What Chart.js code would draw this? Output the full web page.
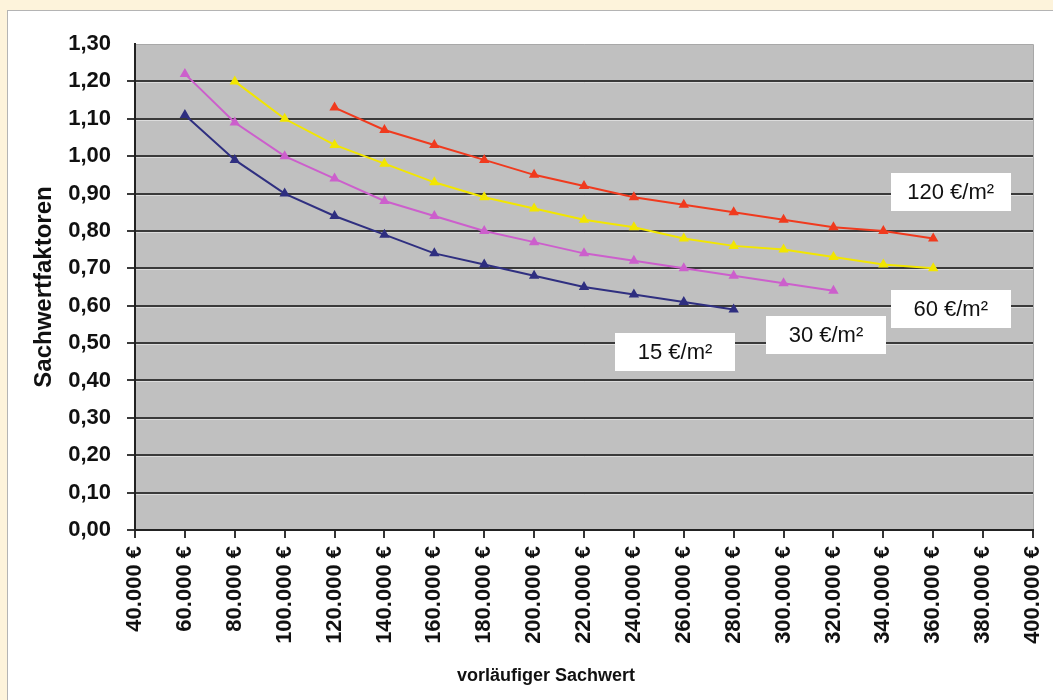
<!DOCTYPE html>
<html>
<head>
<meta charset="utf-8">
<script src="https://cdn.jsdelivr.net/npm/chart.js@4.4.1/dist/chart.umd.min.js"></script>
<style>
  html, body { margin: 0; padding: 0; background: #fdf3db; overflow: hidden; }
  #panel { position: absolute; left: 7px; top: 10px; width: 1080px; height: 720px; background: #fff; border: 1px solid #b4b4b4; }
  #chart { position: absolute; left: 0; top: 0; }
</style>
</head>
<body>
<div id="panel"></div>
<canvas id="chart" width="1053" height="700"></canvas>
<script>
// vorläufiger Sachwert (x) for each measured point
const sachwerte = [60000, 80000, 100000, 120000, 140000, 160000, 180000, 200000,
                   220000, 240000, 260000, 280000, 300000, 320000, 340000, 360000];

// Sachwertfaktoren per Bodenwert-Niveau (null = no point)
const faktor15  = [1.11, 0.99, 0.90, 0.84, 0.79, 0.74, 0.71, 0.68, 0.65, 0.63, 0.61, 0.59, null, null, null, null];
const faktor30  = [1.22, 1.09, 1.00, 0.94, 0.88, 0.84, 0.80, 0.77, 0.74, 0.72, 0.70, 0.68, 0.66, 0.64, null, null];
const faktor60  = [null, 1.20, 1.10, 1.03, 0.98, 0.93, 0.89, 0.86, 0.83, 0.81, 0.78, 0.76, 0.75, 0.73, 0.71, 0.70];
const faktor120 = [null, null, null, 1.13, 1.07, 1.03, 0.99, 0.95, 0.92, 0.89, 0.87, 0.85, 0.83, 0.81, 0.80, 0.78];

// curve labels and where they sit (in data units)
const labelTexts = ['120 €/m²', '60 €/m²', '30 €/m²', '15 €/m²'];
const labelX = [367000, 367000, 317000, 256500];
const labelY = [0.904, 0.591, 0.522, 0.476];

const toPoints = (ys) => sachwerte.map((x, i) => ({x: x, y: ys[i]})).filter(p => p.y !== null);

const fmtEuro = (v) => v.toLocaleString('de-DE') + ' €';
const fmtFaktor = (v) => v.toFixed(2).replace('.', ',');

const makeSeries = (label, ys, color) => ({
    label: label,
    data: toPoints(ys),
    borderColor: color,
    backgroundColor: color,
    borderWidth: 2,
    pointStyle: 'triangle',
    pointRadius: 4,
    pointHoverRadius: 4,
    tension: 0
});

const plotBackground = {
    id: 'plotBackground',
    beforeDraw(chart) {
        const {ctx, chartArea: a} = chart;
        ctx.save();
        ctx.fillStyle = '#c0c0c0';
        ctx.fillRect(a.left, a.top, a.right - a.left, a.bottom - a.top);
        ctx.strokeStyle = '#a8a8a8';
        ctx.lineWidth = 1;
        ctx.beginPath();
        ctx.moveTo(a.left, a.top + 0.5);
        ctx.lineTo(a.right + 0.5, a.top + 0.5);
        ctx.lineTo(a.right + 0.5, a.bottom);
        ctx.stroke();
        ctx.restore();
    },
    beforeDatasetsDraw(chart) {
        // light line just under each grid line
        const {ctx, chartArea: a, scales: {y}} = chart;
        ctx.save();
        ctx.strokeStyle = '#dcdcdc';
        ctx.lineWidth = 1;
        y.ticks.forEach((t, i) => {
            if (i === 0 || i === y.ticks.length - 1) return;
            const py = Math.round(y.getPixelForValue(t.value)) + 1.5;
            ctx.beginPath();
            ctx.moveTo(a.left + 1, py);
            ctx.lineTo(a.right, py);
            ctx.stroke();
        });
        ctx.restore();
    }
};

const curveLabels = {
    id: 'curveLabels',
    afterDatasetsDraw(chart) {
        const {ctx, scales: {x, y}, chartArea: a} = chart;
        ctx.save();
        labelTexts.forEach((txt, i) => {
            const cx = x.getPixelForValue(labelX[i]);
            const cy = y.getPixelForValue(labelY[i]);
            ctx.fillStyle = '#ffffff';
            ctx.fillRect(Math.round(cx - 60), Math.round(cy - 19), 120, 38);
            ctx.fillStyle = '#111111';
            ctx.font = '22px Arial, "Liberation Sans", sans-serif';
            ctx.textAlign = 'center';
            ctx.textBaseline = 'middle';
            ctx.fillText(txt, cx, cy + 1);
        });
        // x axis title
        ctx.fillStyle = '#111111';
        ctx.font = 'bold 18px Arial, "Liberation Sans", sans-serif';
        ctx.textAlign = 'center';
        ctx.textBaseline = 'middle';
        ctx.fillText('vorläufiger Sachwert', a.left + 411, 676);
        ctx.restore();
    }
};

const tickFont = {family: 'Arial, "Liberation Sans", sans-serif', weight: 'bold'};

new Chart(document.getElementById('chart').getContext('2d'), {
    type: 'line',
    data: {
        datasets: [
            makeSeries('15 €/m²', faktor15, '#2f2f80'),
            makeSeries('30 €/m²', faktor30, '#cc5fcc'),
            makeSeries('60 €/m²', faktor60, '#f2e600'),
            makeSeries('120 €/m²', faktor120, '#f03a1e')
        ]
    },
    plugins: [plotBackground, curveLabels],
    options: {
        responsive: false,
        animation: false,
        layout: { padding: { top: 44, right: 20, left: 0, bottom: 0 } },
        plugins: {
            legend: { display: false },
            tooltip: { enabled: false }
        },
        scales: {
            x: {
                type: 'linear',
                min: 40000,
                max: 400000,
                afterFit: (s) => { s.height = 170; s.paddingLeft = 0; s.paddingRight = 0; },
                afterBuildTicks: (s) => {
                    s.ticks = [];
                    for (let v = 40000; v <= 400000; v += 20000) s.ticks.push({value: v});
                },
                ticks: {
                    autoSkip: false,
                    minRotation: 90,
                    maxRotation: 90,
                    padding: 8,
                    color: '#111',
                    font: {...tickFont, size: 22},
                    callback: (v) => fmtEuro(v)
                },
                grid: {
                    drawOnChartArea: false,
                    drawTicks: true,
                    tickLength: 8,
                    color: '#333',
                    lineWidth: 2
                },
                border: { color: '#222', width: 2 }
            },
            y: {
                min: 0,
                max: 1.3,
                afterFit: (s) => { s.width = 135; s.paddingTop = 0; s.paddingBottom = 0; },
                ticks: {
                    stepSize: 0.1,
                    padding: 16,
                    color: '#111',
                    font: {...tickFont, size: 22},
                    callback: (v) => fmtFaktor(v)
                },
                grid: {
                    tickLength: 8,
                    lineWidth: 2,
                    color: (c) => c.index === 13 ? 'rgba(0,0,0,0)' : '#3a3a3a'
                },
                border: { color: '#222', width: 2 },
                title: {
                    display: true,
                    text: 'Sachwertfaktoren',
                    color: '#111',
                    font: {...tickFont, size: 24},
                    padding: { top: 30, bottom: 0 }
                }
            }
        }
    }
});
</script>
</body>
</html>
